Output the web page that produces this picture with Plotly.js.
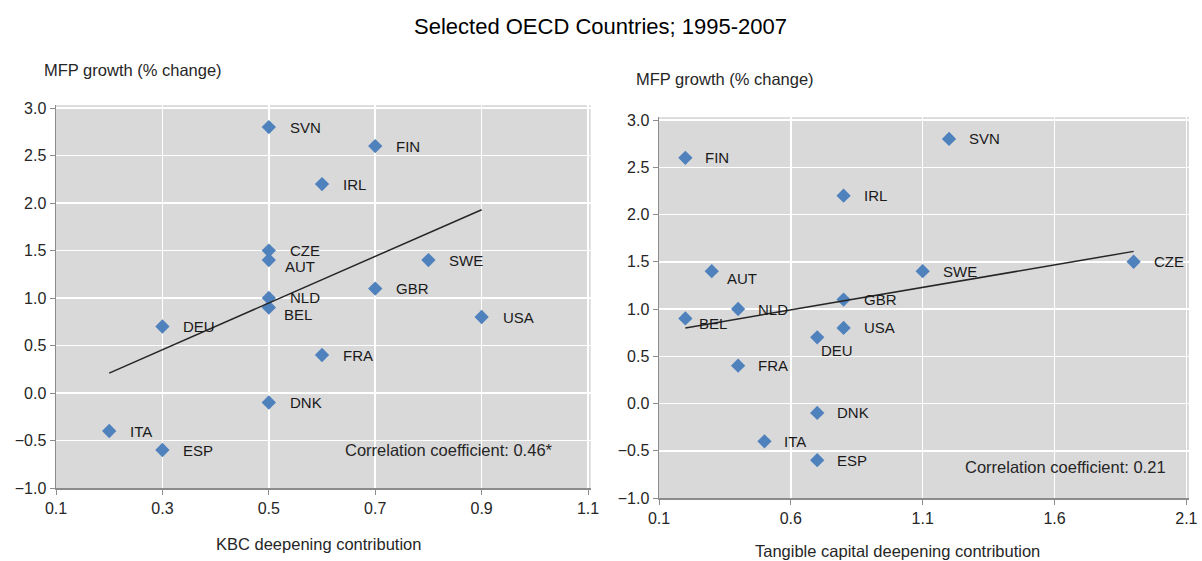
<!DOCTYPE html>
<html>
<head>
<meta charset="utf-8">
<script src="https://cdn.plot.ly/plotly-3.0.1.min.js"></script>
<style>html,body{margin:0;padding:0;background:#fff;}#chart{width:1202px;height:561px;}</style>
</head>
<body>
<div id="chart"></div>
<script>
// ---- Data ----
const countries = ["SVN","FIN","IRL","CZE","AUT","SWE","GBR","NLD","BEL","USA","DEU","FRA","DNK","ITA","ESP"];
const mfpGrowth = [2.8, 2.6, 2.2, 1.5, 1.4, 1.4, 1.1, 1.0, 0.9, 0.8, 0.7, 0.4, -0.1, -0.4, -0.6];
const kbcDeepening = [0.5, 0.7, 0.6, 0.5, 0.5, 0.8, 0.7, 0.5, 0.5, 0.9, 0.3, 0.6, 0.5, 0.2, 0.3];
const tangibleDeepening = [1.2, 0.2, 0.8, 1.9, 0.3, 1.1, 0.8, 0.4, 0.2, 0.8, 0.7, 0.4, 0.7, 0.5, 0.7];
const kbcTrendX = [0.2, 0.9];
const kbcTrendY = [0.21, 1.93];
const tanTrendX = [0.2, 1.9];
const tanTrendY = [0.80, 1.61];
const leftXTicks = [0.1, 0.3, 0.5, 0.7, 0.9, 1.1];
const rightXTicks = [0.1, 0.6, 1.1, 1.6, 2.1];
const yTicks = [-1.0, -0.5, 0.0, 0.5, 1.0, 1.5, 2.0, 2.5, 3.0];
const chartTitle = "Selected OECD Countries; 1995-2007";
const yTitle = "MFP growth (% change)";
const leftXTitle = "KBC deepening contribution";
const rightXTitle = "Tangible capital deepening contribution";
const leftCorr = "Correlation coefficient: 0.46*";
const rightCorr = "Correlation coefficient: 0.21";

// ---- Label offsets (styling) ----
const leftShift = {AUT:[14,-6], BEL:[13,-7], NLD:[19,1]};
const rightShift = {AUT:[13,-7], BEL:[12,-5], DEU:[2,-13]};

const FONT = "Liberation Sans, Arial, sans-serif";
const markerStyle = {symbol:"diamond", size:11, color:"#4f81bd"};
const lineStyle = {color:"#262626", width:1.5};
const labelFont = {family:FONT, size:15, color:"#1a1a1a"};

const traces = [
  {x:kbcDeepening, y:mfpGrowth, type:"scatter", mode:"markers", marker:markerStyle, xaxis:"x", yaxis:"y", hoverinfo:"text", text:countries},
  {x:kbcTrendX, y:kbcTrendY, type:"scatter", mode:"lines", line:lineStyle, xaxis:"x", yaxis:"y"},
  {x:tangibleDeepening, y:mfpGrowth, type:"scatter", mode:"markers", marker:markerStyle, xaxis:"x2", yaxis:"y2", hoverinfo:"text", text:countries},
  {x:tanTrendX, y:tanTrendY, type:"scatter", mode:"lines", line:lineStyle, xaxis:"x2", yaxis:"y2"}
];

const annotations = [];
countries.forEach((c,i)=>{
  const ls = leftShift[c] || [19,0];
  annotations.push({x:kbcDeepening[i], y:mfpGrowth[i], xref:"x", yref:"y", text:c, showarrow:false,
    xanchor:"left", yanchor:"middle", xshift:ls[0], yshift:ls[1], font:labelFont});
  const rs = rightShift[c] || [18,0];
  annotations.push({x:tangibleDeepening[i], y:mfpGrowth[i], xref:"x2", yref:"y2", text:c, showarrow:false,
    xanchor:"left", yanchor:"middle", xshift:rs[0], yshift:rs[1], font:labelFont});
});
const small = {family:FONT, size:16.5, color:"#262626"};
annotations.push(
  {xref:"paper", yref:"paper", x:600/1202, y:1-27/561, text:chartTitle, showarrow:false, xanchor:"center", yanchor:"middle", font:{family:FONT,size:22,color:"#000"}},
  {xref:"paper", yref:"paper", x:42/1202, y:1-70/561, text:yTitle, showarrow:false, xanchor:"left", yanchor:"middle", font:small},
  {xref:"paper", yref:"paper", x:634/1202, y:1-79/561, text:yTitle, showarrow:false, xanchor:"left", yanchor:"middle", font:small},
  {xref:"paper", yref:"paper", x:318/1202, y:1-544/561, text:leftXTitle, showarrow:false, xanchor:"center", yanchor:"middle", font:small},
  {xref:"paper", yref:"paper", x:897/1202, y:1-551/561, text:rightXTitle, showarrow:false, xanchor:"center", yanchor:"middle", font:small},
  {xref:"paper", yref:"paper", x:555/1202, y:1-450/561, text:leftCorr, showarrow:false, xanchor:"right", yanchor:"middle", font:small},
  {xref:"paper", yref:"paper", x:1168/1202, y:1-467/561, text:rightCorr, showarrow:false, xanchor:"right", yanchor:"middle", font:small}
);

const axisCommon = {showgrid:true, gridcolor:"#ffffff", gridwidth:1.5, zeroline:false, showline:true, linecolor:"#8c8c8c", linewidth:1.5,
  ticks:"outside", ticklen:5, tickcolor:"#8c8c8c", tickformat:".1f", tickmode:"array", ticklabeloverflow:"allow",
  tickfont:{family:FONT,size:16,color:"#262626"}, fixedrange:true};

const layout = {
  width:1202, height:561, margin:{l:0,r:0,t:0,b:0}, showlegend:false,
  paper_bgcolor:"#ffffff", plot_bgcolor:"#d9d9d9",
  font:{family:FONT},
  xaxis:Object.assign({}, axisCommon, {domain:[56/1202, 590.7/1202], range:[0.1,1.105], tickvals:leftXTicks, anchor:"y"}),
  yaxis:Object.assign({}, axisCommon, {domain:[(561-488)/561, (561-105.2)/561], range:[-1,3.03], tickvals:yTicks, anchor:"x"}),
  xaxis2:Object.assign({}, axisCommon, {domain:[659/1202, 1189/1202], range:[0.1,2.11], tickvals:rightXTicks, anchor:"y2"}),
  yaxis2:Object.assign({}, axisCommon, {domain:[(561-498)/561, (561-117.2)/561], range:[-1,3.03], tickvals:yTicks, anchor:"x2"}),
  annotations:annotations
};

Plotly.newPlot("chart", traces, layout, {staticPlot:true, displayModeBar:false});
</script>
</body>
</html>
